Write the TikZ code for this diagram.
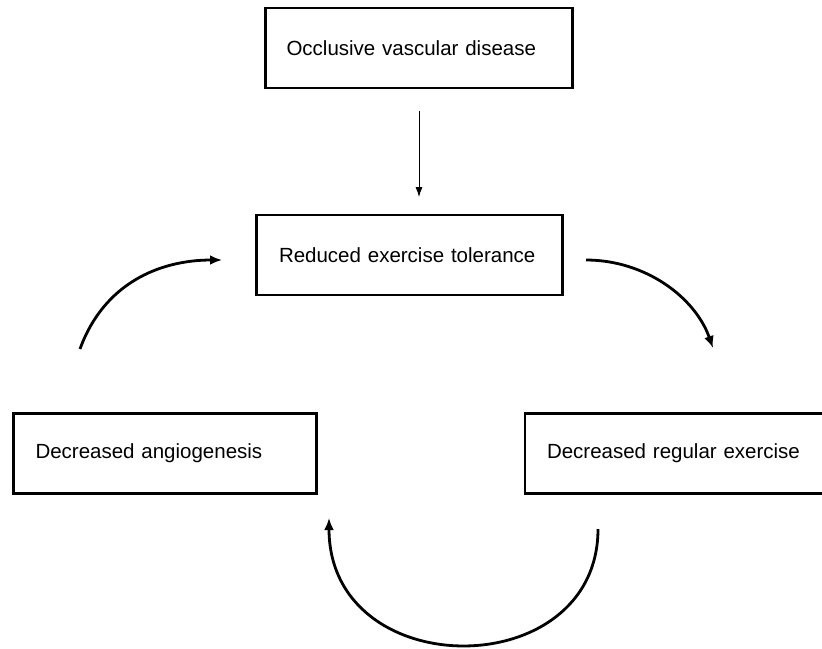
\documentclass[tikz,border=0pt]{standalone}
\usepackage{fontspec}
\setmainfont{Liberation Sans}
\usetikzlibrary{arrows.meta}
\begin{document}
\begin{tikzpicture}[x=1pt,y=-1pt,
  box/.style={draw=black, line width=2.6pt, minimum height=80pt, inner ysep=0pt,
    align=left, font=\fontsize{20.5}{24}\selectfont},
  thinarrow/.style={line width=0.8pt, -{Latex[length=10pt,width=7pt]}},
  bigarrow/.style={line width=2.8pt, -{Latex[length=12pt,width=10pt]}}]
\useasboundingbox (0,0) rectangle (822,648);
\clip (0,0) rectangle (822,648);
\node[box, minimum width=307pt, text width=265pt, inner xsep=21pt] (b1) at (419,48) {Occlusive vascular disease};
\node[box, minimum width=306pt, text width=261pt, inner xsep=22.5pt] (b2) at (409.5,255) {Reduced exercise tolerance};
\node[box, minimum width=303pt, text width=259pt, inner xsep=22pt] (b3) at (165,453.5) {Decreased angiogenesis};
\node[box, minimum width=320pt, text width=276pt, inner xsep=22pt] (b4) at (685,453.5) {Decreased regular exercise};
\coordinate (v1) at (419,111);
\coordinate (v2) at (419,197);
\coordinate (l1) at (80,349);
\coordinate (l2) at (222,260);
\coordinate (r1) at (586,260);
\coordinate (r2) at (713,348);
\coordinate (d1) at (598,529);
\coordinate (d2) at (329,518);
\draw[thinarrow] (v1) -- (v2);
\draw[bigarrow] (l1) .. controls (104,283) and (160,260) .. (l2);
\draw[bigarrow] (r1) .. controls (645,260) and (695,297) .. (r2);
\draw[bigarrow] (d1) .. controls (598,685) and (329,685) .. (d2);
\end{tikzpicture}
\end{document}
